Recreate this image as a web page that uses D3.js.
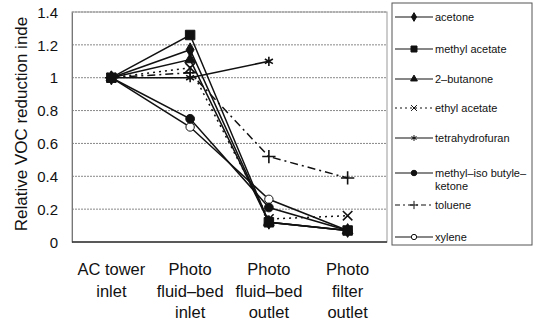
<!DOCTYPE html>
<html>
<head>
<meta charset="utf-8">
<script src="https://cdn.jsdelivr.net/npm/d3@7"></script>
<style>
  body { margin: 0; background: #fff; }
  text { font-family: "Liberation Sans", Arial, sans-serif; fill: #111; }
</style>
</head>
<body>
<script>
// categories along the x axis (multi-line labels)
const categories = ['AC tower inlet', 'Photo fluid-bed inlet', 'Photo fluid-bed outlet', 'Photo filter outlet'];
const categoryLines = [['AC tower', 'inlet'], ['Photo', 'fluid\u2013bed', 'inlet'], ['Photo', 'fluid\u2013bed', 'outlet'], ['Photo', 'filter', 'outlet']];
const yTicks = [0, 0.2, 0.4, 0.6, 0.8, 1, 1.2, 1.4];

// series values
const acetone = [1, 1.17, 0.12, 0.07];
const methylAcetate = [1, 1.26, 0.12, 0.07];
const butanone = [1, 1.11, 0.12, 0.07];
const ethylAcetate = [1, 1.06, 0.14, 0.16];
const tetrahydrofuran = [1, 1.0, 1.1, null];
const mibk = [1, 0.75, 0.21, 0.07];
const toluene = [1, 1.03, 0.52, 0.39];
const xylene = [1, 0.70, 0.26, 0.07];

const seriesNames = ['acetone', 'methyl acetate', '2\u2013butanone', 'ethyl acetate', 'tetrahydrofuran', 'methyl\u2013iso butyle\u2013|ketone', 'toluene', 'xylene'];
const seriesValues = [acetone, methylAcetate, butanone, ethylAcetate, tetrahydrofuran, mibk, toluene, xylene];

// drawing style per series
const styles = [
  { sym: d3.symbolDiamond, fill: '#111', dash: null, size: 55 },
  { sym: d3.symbolSquare, fill: '#111', dash: null, size: 90 },
  { sym: d3.symbolTriangle, fill: '#111', dash: null, size: 50 },
  { sym: d3.symbolTimes, fill: 'none', dash: '2,4', size: 60 },
  { sym: d3.symbolAsterisk, fill: 'none', dash: null, size: 60 },
  { sym: d3.symbolCircle, fill: '#111', dash: null, size: 60 },
  { sym: d3.symbolPlus, fill: 'none', dash: '8,4,2,4', size: 60 },
  { sym: d3.symbolCircle, fill: '#fff', dash: null, size: 55 },
];

const W = 538, H = 321;
const svg = d3.select('body').append('svg').attr('width', W).attr('height', H);

const x = d3.scalePoint().domain(categories).range([72, 387]).padding(0.5);
const y = d3.scaleLinear().domain([0, 1.4]).range([242, 12]);

// gridlines
svg.append('g')
  .selectAll('line')
  .data(yTicks.filter(t => t > 0))
  .join('line')
  .attr('x1', 72).attr('x2', 387)
  .attr('y1', d => y(d)).attr('y2', d => y(d))
  .attr('stroke', '#888').attr('stroke-width', 1).attr('stroke-dasharray', '2,1');

// plot frame
svg.append('rect')
  .attr('x', 72).attr('y', 12).attr('width', 315).attr('height', 230)
  .attr('fill', 'none').attr('stroke', '#999').attr('stroke-width', 1);

// y axis
const yAxis = svg.append('g')
  .attr('transform', 'translate(72,0)')
  .call(d3.axisLeft(y).tickValues(yTicks).tickSize(0).tickPadding(14).tickFormat(d => d3.format('')(+d.toFixed(1))));
yAxis.select('.domain').attr('stroke', '#777');
yAxis.selectAll('text').style('font-size', '15px').attr('dy', '0.35em');

// x axis line
svg.append('line')
  .attr('x1', 72).attr('x2', 387).attr('y1', 242).attr('y2', 242)
  .attr('stroke', '#333').attr('stroke-width', 1.5);

// category labels
const xl = svg.append('g').selectAll('text')
  .data(categories)
  .join('text')
  .attr('text-anchor', 'middle')
  .attr('x', d => x(d))
  .style('font-size', '16.5px');
xl.selectAll('tspan')
  .data((d, i) => categoryLines[i])
  .join('tspan')
  .attr('x', function () { return d3.select(this.parentNode).attr('x'); })
  .attr('y', (d, i) => 275 + i * 21.5)
  .text(d => d);

// y title
svg.append('text')
  .attr('transform', 'translate(27,124) rotate(-90)')
  .attr('text-anchor', 'middle')
  .style('font-size', '17px')
  .text('Relative VOC reduction inde');

// series (methyl acetate drawn last so its squares sit on top)
const line = d3.line()
  .defined(d => d != null)
  .x((d, i) => x(categories[i]))
  .y(d => y(d));

const drawOrder = [7, 6, 5, 4, 3, 2, 0, 1];
drawOrder.forEach(k => {
  const vals = seriesValues[k];
  const st = styles[k];
  const g = svg.append('g');
  g.append('path')
    .datum(vals)
    .attr('d', line)
    .attr('fill', 'none')
    .attr('stroke', '#111')
    .attr('stroke-width', 1.5)
    .attr('stroke-dasharray', st.dash);
  g.selectAll('path.m')
    .data(vals.map((v, i) => ({ v, i })).filter(d => d.v != null))
    .join('path')
    .attr('class', 'm')
    .attr('transform', d => `translate(${x(categories[d.i])},${y(d.v)})`)
    .attr('d', d3.symbol(st.sym, st.size))
    .attr('fill', st.fill)
    .attr('stroke', '#111')
    .attr('stroke-width', st.fill === 'none' ? 1.6 : 1);
});

// legend
svg.append('rect')
  .attr('x', 392).attr('y', 3).attr('width', 140).attr('height', 242)
  .attr('fill', '#fff').attr('stroke', '#555').attr('stroke-width', 1);

const legendY = [17, 49, 79, 108, 138, 173, 205, 237];
seriesNames.forEach((name, k) => {
  const st = styles[k];
  const ly = legendY[k];
  const g = svg.append('g');
  g.append('line')
    .attr('x1', 395).attr('x2', 433).attr('y1', ly).attr('y2', ly)
    .attr('stroke', '#111').attr('stroke-width', 1.2)
    .attr('stroke-dasharray', st.dash === '2,4' ? '2,3' : st.dash === '8,4,2,4' ? '5,3,2,3' : null);
  g.append('path')
    .attr('transform', `translate(414,${ly})`)
    .attr('d', d3.symbol(st.sym, st.size * 0.4))
    .attr('fill', st.fill)
    .attr('stroke', '#111')
    .attr('stroke-width', 1);
  const t = g.append('text')
    .attr('x', 435).attr('y', ly)
    .style('font-size', '11px');
  name.split('|').forEach((s, i) => {
    t.append('tspan').attr('x', 435).attr('dy', i === 0 ? '0.35em' : '1.2em').text(s);
  });
});
</script>
</body>
</html>
